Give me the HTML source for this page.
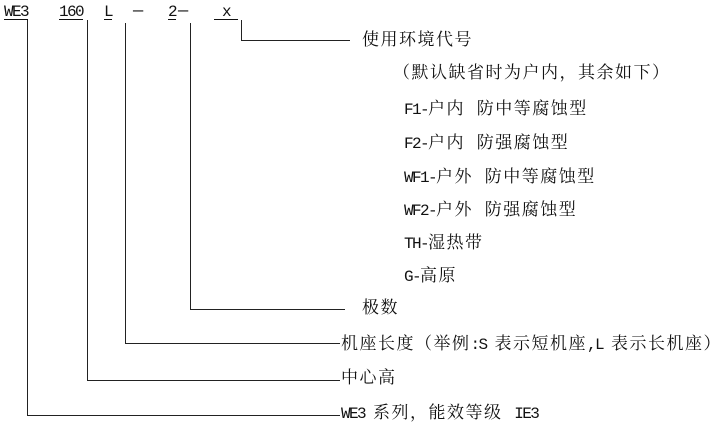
<!DOCTYPE html>
<html><head><meta charset="utf-8"><style>
body{margin:0;width:716px;height:425px;background:#fff;position:relative;overflow:hidden;font-family:"Liberation Mono","Noto Serif CJK SC","Noto Sans CJK SC",serif;font-size:17px;letter-spacing:1.5px;color:#111}
.t{position:absolute;white-space:nowrap;line-height:18px}
.m{font-size:16px;letter-spacing:-1.6px}
.u{text-decoration:underline;text-underline-offset:3px}
.l{position:absolute;background:#222}
</style></head><body>
<div class="t u m" style="left:4px;top:3px">WE3</div>
<div class="t u m" style="left:59px;top:3px">160</div>
<div class="t u m" style="left:104px;top:3px">L</div>
<div class="t" style="left:133px;top:3px">—</div>
<div class="t u m" style="left:168px;top:3px">2</div>
<div class="t" style="left:178px;top:3px">—</div>
<div class="t u m" style="left:214px;top:3px">&nbsp;x&nbsp;</div>

<div class="l" style="left:241px;top:20px;width:1px;height:21px"></div>
<div class="l" style="left:241px;top:40px;width:109px;height:1px"></div>
<div class="l" style="left:190px;top:23px;width:1px;height:287px"></div>
<div class="l" style="left:190px;top:309px;width:155px;height:1px"></div>
<div class="l" style="left:125px;top:23px;width:1px;height:321px"></div>
<div class="l" style="left:125px;top:343px;width:215px;height:1px"></div>
<div class="l" style="left:87px;top:20px;width:1px;height:361px"></div>
<div class="l" style="left:87px;top:380px;width:253px;height:1px"></div>
<div class="l" style="left:27px;top:20px;width:1px;height:396px"></div>
<div class="l" style="left:27px;top:415px;width:313px;height:1px"></div>

<div class="t" style="left:362px;top:33px">使用环境代号</div>
<div class="t" style="left:393px;top:66px">（默认缺省时为户内，其余如下）</div>
<div class="t" style="left:404px;top:101px"><span class="m">F1-</span>户内 防中等腐蚀型</div>
<div class="t" style="left:404px;top:135px"><span class="m">F2-</span>户内 防强腐蚀型</div>
<div class="t" style="left:404px;top:169px"><span class="m">WF1-</span>户外 防中等腐蚀型</div>
<div class="t" style="left:404px;top:202px"><span class="m">WF2-</span>户外 防强腐蚀型</div>
<div class="t" style="left:404px;top:235px"><span class="m">TH-</span>湿热带</div>
<div class="t" style="left:404px;top:268px"><span class="m">G-</span>高原</div>
<div class="t" style="left:362px;top:301px">极数</div>
<div class="t" style="left:341px;top:336px">机座长度（举例<span class="m">:S </span>表示短机座<span class="m">,L </span>表示长机座）</div>
<div class="t" style="left:341px;top:371px">中心高</div>
<div class="t" style="left:341px;top:405px"><span class="m">WE3 </span>系列，能效等级 <span class="m">IE3</span></div>
</body></html>
